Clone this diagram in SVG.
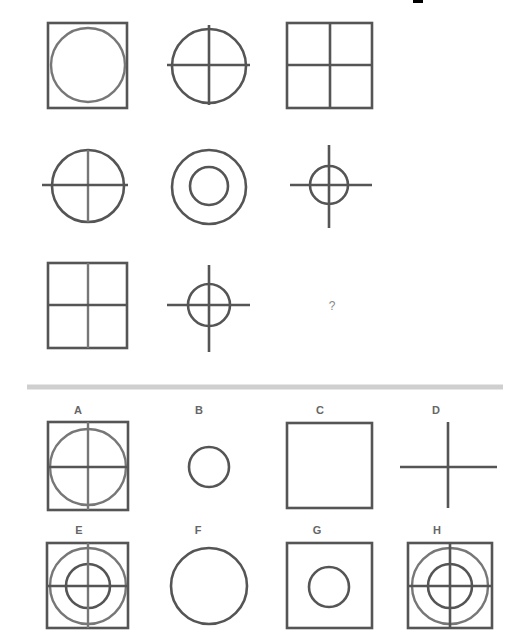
<svg xmlns="http://www.w3.org/2000/svg" width="525" height="640" viewBox="0 0 525 640">
<defs>
<style>
.s{fill:none;stroke:#555;stroke-width:2.6}
.f{fill:none;stroke:#777;stroke-width:2.4}
.lbl{font-family:"Liberation Sans",Arial,sans-serif;font-size:11px;font-weight:bold;fill:#666;text-anchor:middle}
</style>
</defs>
<rect width="525" height="640" fill="#ffffff"/>
<rect x="413" y="0" width="10" height="3" fill="#000"/>
<g id="row1">
<g id="r1c1"><rect class="s" x="48" y="23" width="79" height="85"/><circle class="f" cx="88" cy="65" r="37"/></g>
<g id="r1c2"><circle class="s" cx="209" cy="66" r="37"/><line class="s" x1="209" y1="25" x2="209" y2="105"/><line class="s" x1="167" y1="65" x2="250" y2="65"/></g>
<g id="r1c3"><rect class="s" x="287" y="23" width="85" height="85"/><line class="s" x1="330" y1="23" x2="330" y2="108"/><line class="s" x1="287" y1="65" x2="372" y2="65"/></g>
</g>
<g id="row2">
<g id="r2c1"><circle class="s" cx="88" cy="186" r="36"/><line class="f" x1="88" y1="150" x2="88" y2="222"/><line class="s" x1="42" y1="185" x2="128" y2="185"/></g>
<g id="r2c2"><circle class="s" cx="209" cy="187" r="37"/><circle class="s" cx="209" cy="186" r="19"/></g>
<g id="r2c3"><circle class="s" cx="329" cy="185" r="19"/><line class="s" x1="329" y1="145" x2="329" y2="228"/><line class="s" x1="290" y1="185" x2="372" y2="185"/></g>
</g>
<g id="row3">
<g id="r3c1"><rect class="s" x="48" y="263" width="79" height="85"/><line class="f" x1="88" y1="263" x2="88" y2="348"/><line class="s" x1="48" y1="305" x2="127" y2="305"/></g>
<g id="r3c2"><circle class="s" cx="209" cy="305" r="21"/><line class="s" x1="209" y1="265" x2="209" y2="352"/><line class="s" x1="167" y1="305" x2="250" y2="305"/></g>
<text id="q" x="332" y="310" font-family="Liberation Sans,Arial,sans-serif" font-size="12" fill="#888" text-anchor="middle">?</text>
</g>
<line id="sep" x1="27" y1="387" x2="503" y2="387" stroke="#cfcfcf" stroke-width="5"/>
<g id="optA"><text class="lbl" x="78" y="414">A</text><rect class="s" x="48" y="422" width="80" height="88"/><circle class="f" cx="88" cy="467" r="38"/><line class="f" x1="88" y1="422" x2="88" y2="510"/><line class="s" x1="48" y1="467" x2="128" y2="467"/></g>
<g id="optB"><text class="lbl" x="199" y="414">B</text><circle class="s" cx="209" cy="467" r="20"/></g>
<g id="optC"><text class="lbl" x="320" y="414">C</text><rect class="s" x="287" y="423" width="85" height="85"/></g>
<g id="optD"><text class="lbl" x="436" y="414">D</text><line class="s" x1="448" y1="422" x2="448" y2="508"/><line class="s" x1="400" y1="467" x2="497" y2="467"/></g>
<g id="optE"><text class="lbl" x="79" y="534">E</text><rect class="s" x="47" y="543" width="81" height="85"/><circle class="f" cx="88" cy="586" r="38"/><circle class="s" cx="88" cy="586" r="22"/><line class="f" x1="88" y1="543" x2="88" y2="628"/><line class="s" x1="47" y1="586" x2="128" y2="586"/></g>
<g id="optF"><text class="lbl" x="198" y="534">F</text><circle class="s" cx="209" cy="586" r="38"/></g>
<g id="optG"><text class="lbl" x="317" y="534">G</text><rect class="s" x="287" y="543" width="85" height="85"/><circle class="s" cx="329" cy="587" r="20"/></g>
<g id="optH"><text class="lbl" x="437" y="534">H</text><rect class="s" x="408" y="543" width="84" height="85"/><circle class="f" cx="450" cy="586" r="38"/><circle class="s" cx="450" cy="586" r="22"/><line class="s" x1="450" y1="543" x2="450" y2="628"/><line class="s" x1="408" y1="586" x2="492" y2="586"/></g>
</svg>
